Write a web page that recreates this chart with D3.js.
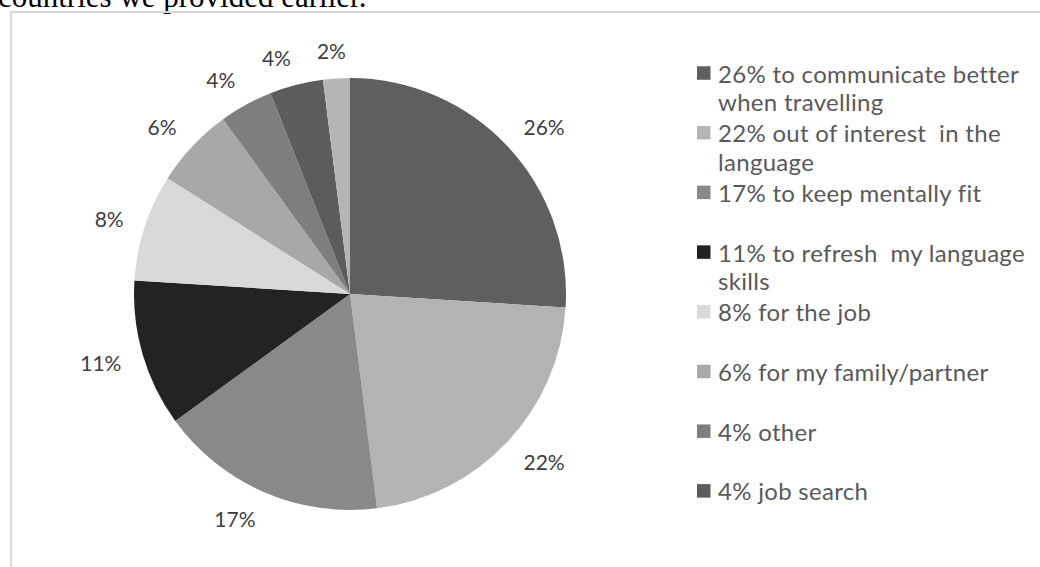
<!DOCTYPE html>
<html>
<head>
<meta charset="utf-8">
<script src="https://cdn.jsdelivr.net/npm/d3@7/dist/d3.min.js"></script>
<style>
  html, body { margin: 0; padding: 0; background: #ffffff; }
  svg { display: block; }
  text { white-space: pre; }
</style>
</head>
<body>
<svg id="chart" width="1040" height="567"></svg>
<script>
// Reasons for learning a language (share of respondents, %)
const values = [26, 22, 17, 11, 8, 6, 4, 4, 2];
const sliceColors = ["#5f5f5f", "#b3b3b3", "#898989", "#232323", "#d9d9d9",
                     "#a8a8a8", "#7e7e7e", "#5c5c5c", "#b5b5b5"];
const legendLines = [
  ["26% to communicate better", "when travelling"],
  ["22% out of interest  in the", "language"],
  ["17% to keep mentally fit"],
  ["11% to refresh  my language", "skills"],
  ["8% for the job"],
  ["6% for my family/partner"],
  ["4% other"],
  ["4% job search"]
];
const introText = "countries we provided earlier.";

const svg = d3.select("#chart");

// Tail of the paragraph above the chart
svg.append("text")
  .attr("x", -2).attr("y", 7)
  .attr("font-family", "'Liberation Serif', 'Times New Roman', serif")
  .attr("font-size", 31)
  .attr("fill", "#000")
  .text(introText);

// Chart frame
svg.append("path")
  .attr("d", "M11,568 V12 H1041")
  .attr("fill", "none")
  .attr("stroke", "#d9d9d9")
  .attr("stroke-width", 2);

// Pie
const cx = 350, cy = 294, radius = 216;
const pie = d3.pie().sort(null).value(d => d);
const arcs = pie(values);
const arc = d3.arc().innerRadius(0).outerRadius(radius);

const g = svg.append("g").attr("transform", `translate(${cx},${cy})`);
g.selectAll("path.slice")
  .data(arcs)
  .join("path")
  .attr("class", "slice")
  .attr("d", arc)
  .attr("fill", (d, i) => sliceColors[i]);

// Percentage labels just outside each slice; the label box is pushed
// sideways away from the pie so that its nearest edge sits on the anchor
const labelArc = d3.arc().innerRadius(radius + 22).outerRadius(radius + 22);
const labelFont = 21;
g.selectAll("text.pct")
  .data(arcs)
  .join("text")
  .attr("class", "pct")
  .attr("font-family", "Lato, 'Open Sans', sans-serif")
  .attr("font-size", labelFont)
  .attr("fill", "#404040")
  .attr("text-anchor", "middle")
  .attr("dominant-baseline", "central")
  .text(d => d.data + "%")
  .each(function (d) {
    const a = (d.startAngle + d.endAngle) / 2;
    const [px, py] = labelArc.centroid(d);
    const w = this.getComputedTextLength();
    const h = labelFont * 0.6;
    const sx = Math.max(-1, Math.min(1, Math.sin(a) * 4));
    d3.select(this)
      .attr("x", px + sx * w / 2)
      .attr("y", py - Math.cos(a) * h / 2);
  });

// Legend
const lineH = 28.7, slotH = 59.7, legendX = 697, legendTop = 73, sw = 13.5;
let yCursor = legendTop;
const legendRows = legendLines.map((lines, i) => {
  const row = { lines, color: sliceColors[i], y: yCursor };
  yCursor += Math.max(lines.length * lineH, slotH);
  return row;
});

const lg = svg.append("g");
const rows = lg.selectAll("g.row").data(legendRows).join("g").attr("class", "row");
rows.append("rect")
  .attr("x", legendX)
  .attr("y", d => d.y - sw / 2)
  .attr("width", sw).attr("height", sw)
  .attr("fill", d => d.color);
rows.each(function (d) {
  d3.select(this).selectAll("text")
    .data(d.lines)
    .join("text")
    .attr("x", legendX + sw + 7.5)
    .attr("y", (t, j) => d.y + j * lineH)
    .attr("dominant-baseline", "central")
    .attr("font-family", "Lato, 'Open Sans', sans-serif")
    .attr("font-size", 24)
    .attr("letter-spacing", 0.3)
    .attr("fill", "#595959")
    .text(t => t);
});
</script>
</body>
</html>
